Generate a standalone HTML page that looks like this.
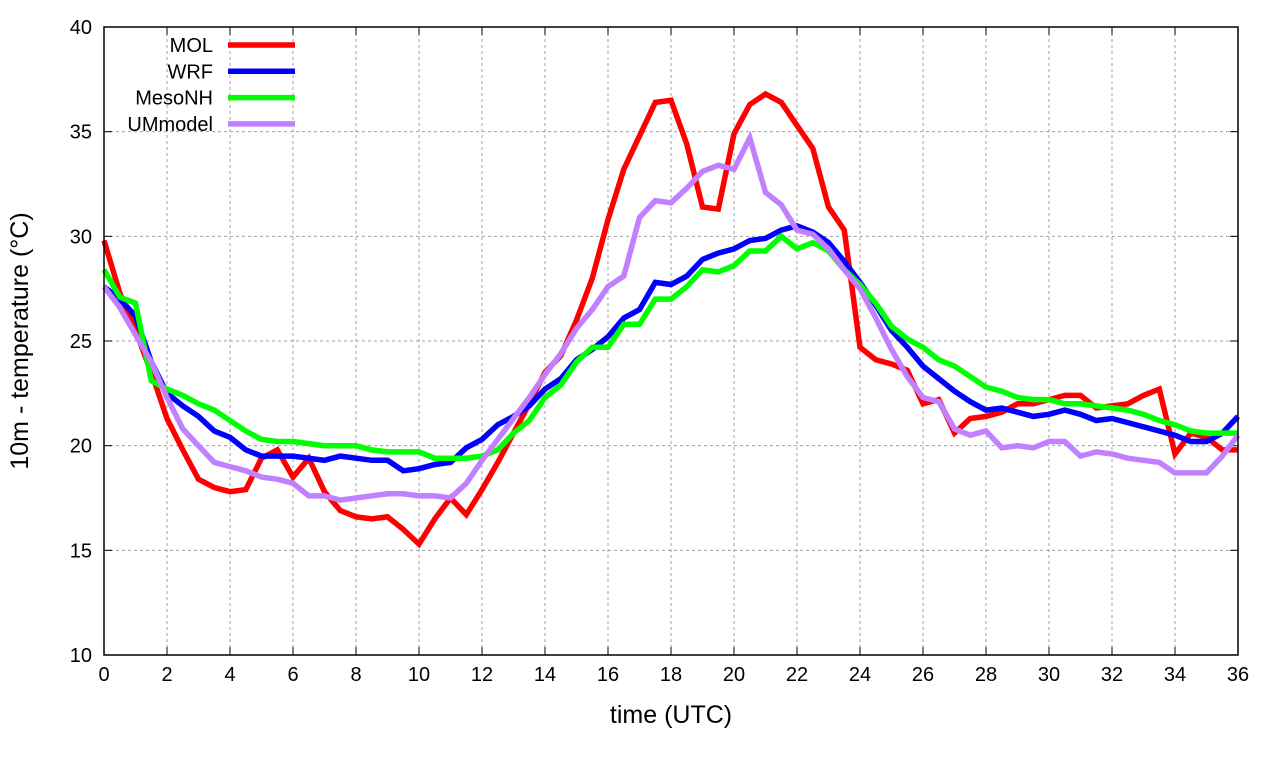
<!DOCTYPE html>
<html><head><meta charset="utf-8"><style>
body{margin:0;background:#fff}
svg{display:block;font-family:"Liberation Sans",sans-serif}
</style></head><body>
<svg id="c" width="1280" height="760"></svg>
<script>
const times=[];for(let i=0;i<=72;i++)times.push(i/2);
const xTicks=[0,2,4,6,8,10,12,14,16,18,20,22,24,26,28,30,32,34,36];
const yTicks=[10,15,20,25,30,35,40];
const seriesNames=["MOL","WRF","MesoNH","UMmodel"];
const seriesColors=["#ff0000","#0000ff","#00ff00","#c080ff"];
const molValues=[29.8,27.3,25.5,23.5,21.3,19.8,18.4,18.0,17.8,17.9,19.4,19.8,18.5,19.4,17.8,16.9,16.6,16.5,16.6,16.0,15.3,16.5,17.5,16.7,17.9,19.2,20.6,22.0,23.5,24.3,26.0,28.0,30.8,33.2,34.8,36.4,36.5,34.4,31.4,31.3,34.9,36.3,36.8,36.4,35.3,34.2,31.4,30.3,24.7,24.1,23.9,23.6,22.0,22.2,20.6,21.3,21.4,21.6,22.0,22.0,22.2,22.4,22.4,21.8,21.9,22.0,22.4,22.7,19.6,20.6,20.4,19.8,19.8];
const wrfValues=[27.6,27.0,26.2,24.0,22.5,21.9,21.4,20.7,20.4,19.8,19.5,19.5,19.5,19.4,19.3,19.5,19.4,19.3,19.3,18.8,18.9,19.1,19.2,19.9,20.3,21.0,21.4,21.9,22.7,23.2,24.1,24.6,25.2,26.1,26.5,27.8,27.7,28.1,28.9,29.2,29.4,29.8,29.9,30.3,30.5,30.2,29.7,28.8,27.8,26.7,25.5,24.7,23.8,23.2,22.6,22.1,21.7,21.8,21.6,21.4,21.5,21.7,21.5,21.2,21.3,21.1,20.9,20.7,20.5,20.2,20.2,20.6,21.4];
const mesoValues=[28.4,27.1,26.8,23.1,22.7,22.4,22.0,21.7,21.2,20.7,20.3,20.2,20.2,20.1,20.0,20.0,20.0,19.8,19.7,19.7,19.7,19.4,19.4,19.4,19.5,19.8,20.6,21.2,22.3,22.9,24.0,24.7,24.7,25.8,25.8,27.0,27.0,27.6,28.4,28.3,28.6,29.3,29.3,30.0,29.4,29.7,29.3,28.4,27.7,26.8,25.7,25.1,24.7,24.1,23.8,23.3,22.8,22.6,22.3,22.2,22.2,22.0,22.0,21.9,21.8,21.7,21.5,21.2,21.0,20.7,20.6,20.6,20.6];
const umValues=[27.6,26.6,25.3,24.0,22.3,20.8,20.0,19.2,19.0,18.8,18.5,18.4,18.2,17.6,17.6,17.4,17.5,17.6,17.7,17.7,17.6,17.6,17.5,18.2,19.3,20.3,21.3,22.3,23.4,24.4,25.6,26.5,27.6,28.1,30.9,31.7,31.6,32.3,33.1,33.4,33.2,34.7,32.1,31.5,30.3,30.1,29.4,28.4,27.5,26.1,24.6,23.3,22.3,22.1,20.8,20.5,20.7,19.9,20.0,19.9,20.2,20.2,19.5,19.7,19.6,19.4,19.3,19.2,18.7,18.7,18.7,19.5,20.5];
const allSeries=[molValues,wrfValues,mesoValues,umValues];

const L=104,R=1238,T=27,B=655;
const xs=t=>L+(t-0)/(36-0)*(R-L);
const ys=v=>B-(v-10)/(40-10)*(B-T);
const NS="http://www.w3.org/2000/svg";
const svg=document.getElementById('c');
function mk(tag,at,parent){const e=document.createElementNS(NS,tag);for(const k in at)e.setAttribute(k,at[k]);(parent||svg).appendChild(e);return e;}

const grid=mk('g',{});


xTicks.forEach(t=>{
  if(t>0&&t<36){const l=mk('line',{x1:xs(t),x2:xs(t),y1:T,y2:B,stroke:'#a0a0a0','stroke-dasharray':'3,3','stroke-width':1},grid);
  }
  const tk=mk('line',{x1:xs(t),x2:xs(t),y1:B,y2:B-8,stroke:'#000'},grid);
  
  const tk2=mk('line',{x1:xs(t),x2:xs(t),y1:T,y2:T+8,stroke:'#000'},grid);
  
  const tx=mk('text',{x:xs(t),y:B+26,'text-anchor':'middle','font-size':20},grid);
  tx.textContent=t;
  
});
yTicks.forEach(v=>{
  if(v>10&&v<40){const l=mk('line',{x1:L,x2:R,y1:ys(v),y2:ys(v),stroke:'#a0a0a0','stroke-dasharray':'3,3','stroke-width':1},grid);
  }
  const tk=mk('line',{x1:L,x2:L+8,y1:ys(v),y2:ys(v),stroke:'#000'},grid);
  
  const tk2=mk('line',{x1:R,x2:R-8,y1:ys(v),y2:ys(v),stroke:'#000'},grid);
  
  const tx=mk('text',{x:L-12,y:ys(v)+7,'text-anchor':'end','font-size':20},grid);
  tx.textContent=v;
  
});

const lines=mk('g',{});


allSeries.forEach((vals,si)=>{
  const d=vals.map((v,i)=>(i?'L':'M')+xs(times[i]).toFixed(1)+','+ys(v).toFixed(1)).join(' ');
  const p=mk('path',{d:d,fill:'none',stroke:seriesColors[si],'stroke-width':5.5,'stroke-linejoin':'miter'},lines);
  
  
});

const frame=mk('rect',{x:L,y:T,width:R-L,height:B-T,fill:'none',stroke:'#000','stroke-width':1.5});



const leg=mk('g',{});


seriesNames.forEach((n,i)=>{
  const y=45+i*26.3;
  const t=mk('text',{x:213,y:y+7,'text-anchor':'end','font-size':20},leg);
  t.textContent=n;
  
  const l=mk('line',{x1:228,x2:295,y1:y,y2:y,stroke:seriesColors[i],'stroke-width':5.5},leg);
  
});

const xt=mk('text',{x:(L+R)/2,y:723,'text-anchor':'middle','font-size':25});
xt.textContent='time (UTC)';

const yt=mk('text',{x:0,y:0,'text-anchor':'middle','font-size':25,transform:'translate(28,341) rotate(-90)'});
yt.textContent='10m - temperature (°C)';

</script>
</body></html>
